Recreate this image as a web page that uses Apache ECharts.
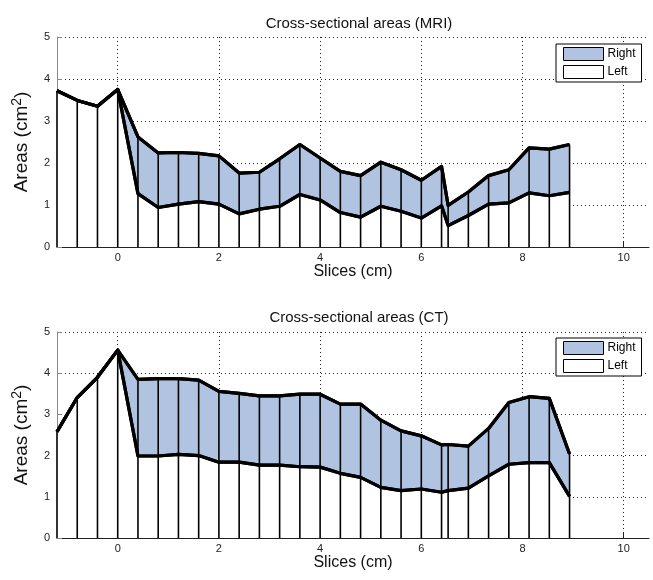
<!DOCTYPE html>
<html>
<head>
<meta charset="utf-8">
<script src="https://cdn.jsdelivr.net/npm/echarts@6/dist/echarts.min.js"></script>
<style>
html,body{margin:0;padding:0;background:#fff;}
#chart{width:653px;height:580px;}
</style>
</head>
<body>
<div id="chart"></div>
<script>
// Slice positions (cm)
const slices = [-1.2, -0.8, -0.4, 0, 0.4, 0.8, 1.2, 1.6, 2.0, 2.4, 2.8, 3.2, 3.6, 4.0, 4.4, 4.8, 5.2, 5.6, 6.0, 6.4, 6.53, 6.93, 7.33, 7.73, 8.13, 8.53, 8.93];

// MRI: Left area and Left+Right total (cm^2)
const mriLeft  = [3.72, 3.49, 3.35, 3.75, 1.27, 0.94, 1.02, 1.08, 1.02, 0.79, 0.90, 0.97, 1.25, 1.12, 0.82, 0.71, 0.97, 0.85, 0.69, 0.98, 0.51, 0.75, 1.02, 1.05, 1.29, 1.22, 1.30];
const mriTotal = [3.72, 3.49, 3.35, 3.75, 2.62, 2.24, 2.25, 2.23, 2.17, 1.76, 1.78, 2.10, 2.44, 2.12, 1.80, 1.70, 2.02, 1.84, 1.59, 1.92, 0.99, 1.31, 1.70, 1.84, 2.36, 2.33, 2.44];

// CT: Left area and Left+Right total (cm^2)
const ctLeft  = [2.58, 3.41, 3.90, 4.56, 1.99, 1.99, 2.03, 2.00, 1.84, 1.84, 1.77, 1.77, 1.73, 1.72, 1.57, 1.47, 1.23, 1.15, 1.19, 1.11, 1.15, 1.21, 1.51, 1.79, 1.83, 1.83, 1.01];
const ctTotal = [2.58, 3.41, 3.90, 4.56, 3.85, 3.87, 3.87, 3.83, 3.56, 3.51, 3.45, 3.45, 3.49, 3.49, 3.25, 3.25, 2.86, 2.60, 2.48, 2.26, 2.27, 2.23, 2.66, 3.29, 3.43, 3.39, 2.04];

const titles = ['Cross-sectional areas (MRI)', 'Cross-sectional areas (CT)'];
const xName = 'Slices (cm)';
const xTicks = [0, 2, 4, 6, 8, 10];
const legendNames = ['Right', 'Left'];

const BLUE = '#b0c4e2';
const FONT = '"Liberation Sans", Arial, sans-serif';

const chart = echarts.init(document.getElementById('chart'), null, {renderer: 'canvas'});

const grids = [
  {left: 57, right: 4, top: 37, height: 210},
  {left: 57, right: 4, top: 332, height: 206}
];

function xAxis(i) {
  return {
    type: 'value', gridIndex: i, min: -1.2, max: 10.5,
    name: xName, nameLocation: 'middle', nameGap: 16,
    nameTextStyle: {fontFamily: FONT, fontSize: 16, color: '#111', verticalAlign: 'top'},
    axisLine: {show: true, onZero: false, lineStyle: {color: '#222', width: 1.2}},
    axisTick: {show: true, inside: true, length: 5, lineStyle: {color: '#222'}, customValues: xTicks},
    axisLabel: {fontFamily: FONT, fontSize: 11, color: '#222', margin: 5, customValues: xTicks},
    splitLine: {show: true, lineStyle: {color: '#222', type: [1, 3], width: 1}},
  };
}
function yAxis(i) {
  return {
    type: 'value', gridIndex: i, min: 0, max: 5, interval: 1,
    name: 'Areas (cm{sup|2})', nameLocation: 'middle', nameGap: 23,
    nameTextStyle: {fontFamily: FONT, fontSize: 19, color: '#111',
      rich: {sup: {fontFamily: FONT, fontSize: 14, color: '#111', verticalAlign: 'bottom', padding: [0, 0, 10, 0]}}},
    axisLine: {show: true, onZero: false, lineStyle: {color: '#888', width: 1}},
    axisTick: {show: true, inside: true, length: 5, lineStyle: {color: '#888'}},
    axisLabel: {fontFamily: FONT, fontSize: 11, color: '#222', margin: 7},
    splitLine: {show: true, lineStyle: {color: '#222', type: [1, 3], width: 1}},
  };
}

function seriesFor(i, left, total) {
  const tot = slices.map((x, k) => [x, total[k]]);
  const lef = slices.map((x, k) => [x, left[k]]);
  return [
    {name: 'Right', type: 'line', xAxisIndex: i, yAxisIndex: i, data: tot,
      showSymbol: false, symbol: 'none', z: 2, silent: true,
      itemStyle: {color: BLUE},
      lineStyle: {color: '#000', width: 3.2, join: 'round'},
      areaStyle: {color: BLUE, opacity: 1}},
    {name: 'Left', type: 'line', xAxisIndex: i, yAxisIndex: i, data: lef,
      showSymbol: false, symbol: 'none', z: 3, silent: true,
      itemStyle: {color: '#fff'},
      lineStyle: {color: '#000', width: 3.2, join: 'round'},
      areaStyle: {color: '#fff', opacity: 1}},
    {type: 'custom', xAxisIndex: i, yAxisIndex: i, data: tot, z: 4, silent: true,
      renderItem: function (params, api) {
        const p0 = api.coord([api.value(0), 0]);
        const p1 = api.coord([api.value(0), api.value(1)]);
        return {type: 'line', shape: {x1: p0[0], y1: p0[1], x2: p1[0], y2: p1[1]},
          style: {stroke: '#000', lineWidth: 1.6}};
      }},
    {type: 'line', xAxisIndex: i, yAxisIndex: i, data: tot, showSymbol: false, symbol: 'none',
      z: 5, silent: true, lineStyle: {color: '#000', width: 3.2, join: 'round'}},
    {type: 'line', xAxisIndex: i, yAxisIndex: i, data: lef, showSymbol: false, symbol: 'none',
      z: 5, silent: true, lineStyle: {color: '#000', width: 3.2, join: 'round'}}
  ];
}

function legend(top) {
  return {
    left: 556, top: top, orient: 'vertical',
    backgroundColor: '#fff', borderColor: '#000', borderWidth: 1,
    padding: [3, 6, 3, 7], itemGap: 4, itemWidth: 40, itemHeight: 13,
    selectedMode: false,
    textStyle: {fontFamily: FONT, fontSize: 12, color: '#000', padding: [0, 0, 0, -1]},
    data: [
      {name: legendNames[0], icon: 'rect', itemStyle: {color: BLUE, borderColor: '#000', borderWidth: 1}},
      {name: legendNames[1], icon: 'rect', itemStyle: {color: '#fff', borderColor: '#000', borderWidth: 1}}
    ]
  };
}

const option = {
  animation: false,
  backgroundColor: '#fff',
  title: [
    {text: titles[0], left: 354, top: 11, textAlign: 'center',
      textStyle: {fontFamily: FONT, fontSize: 15, fontWeight: 'normal', color: '#111'}},
    {text: titles[1], left: 354, top: 305, textAlign: 'center',
      textStyle: {fontFamily: FONT, fontSize: 15, fontWeight: 'normal', color: '#111'}}
  ],
  legend: [legend(44), legend(338)],
  grid: grids,
  xAxis: [xAxis(0), xAxis(1)],
  yAxis: [yAxis(0), yAxis(1)],
  series: seriesFor(0, mriLeft, mriTotal).concat(seriesFor(1, ctLeft, ctTotal))
};
chart.setOption(option);
</script>
</body>
</html>
